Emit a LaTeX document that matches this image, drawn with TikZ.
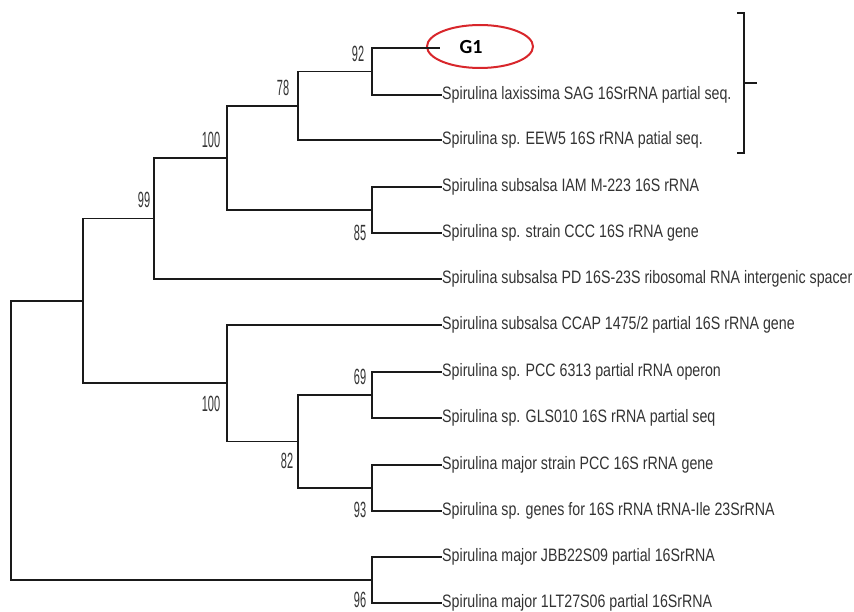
\documentclass[tikz,border=0pt]{standalone}
\usepackage{fontspec}
\setmainfont{Liberation Sans}
\newfontfamily\leaffont[FakeStretch=0.79]{Liberation Sans}
\newfontfamily\bsfont[FakeStretch=0.5]{Liberation Sans}
\newfontfamily\gfont{Carlito}
\usetikzlibrary{shapes.geometric}
\definecolor{txt}{HTML}{333333}
\definecolor{ln}{HTML}{1A1A1A}
\definecolor{ovalred}{HTML}{D8262B}
\tikzset{
  leaf/.style={anchor=west,inner sep=0pt,text=txt,font=\leaffont\fontsize{18}{18}\selectfont},
  bs/.style={inner sep=0pt,text=txt,font=\bsfont\fontsize{22}{22}\selectfont},
  branch/.style={draw=ln,line width=1.8pt},
  brk/.style={draw=ln,line width=2.4pt},
}
\begin{document}
\begin{tikzpicture}[x=1pt,y=-1pt]
\useasboundingbox (0,0) rectangle (854,612);
% leaves
\coordinate (g1end) at (440,48);
\node[ellipse,draw=ovalred,line width=2pt,minimum width=106pt,minimum height=43pt,inner sep=0pt] (g1) at (480,46.5) {};
\node[inner sep=0pt,text=black,font=\gfont\bfseries\fontsize{20}{20}\selectfont] (g1t) at (471,47) {G1};
\node[leaf] (lax) at (442,95) {Spirulina laxissima SAG 16SrRNA partial seq.};
\node[leaf] (eew) at (442,140) {Spirulina sp. EEW5 16S rRNA patial seq.};
\node[leaf] (iam) at (442,187) {Spirulina subsalsa IAM M-223 16S rRNA};
\node[leaf] (ccc) at (442,233) {Spirulina sp. strain CCC 16S rRNA gene};
\node[leaf] (pd) at (442,279) {Spirulina subsalsa PD 16S-23S ribosomal RNA intergenic spacer};
\node[leaf] (ccap) at (442,325) {Spirulina subsalsa CCAP 1475/2 partial 16S rRNA gene};
\node[leaf] (pcc) at (442,372) {Spirulina sp. PCC 6313 partial rRNA operon};
\node[leaf] (gls) at (442,418) {Spirulina sp. GLS010 16S rRNA partial seq};
\node[leaf] (maj) at (442,465) {Spirulina major strain PCC 16S rRNA gene};
\node[leaf] (gen) at (442,511) {Spirulina sp. genes for 16S rRNA tRNA-Ile 23SrRNA};
\node[leaf] (jbb) at (442,557) {Spirulina major JBB22S09 partial 16SrRNA};
\node[leaf] (ilt) at (442,603) {Spirulina major 1LT27S06 partial 16SrRNA};
% internal nodes
\coordinate (root) at (11,440.5);
\coordinate (nA) at (83,301);
\coordinate (n99) at (154,218.5);
\coordinate (n100t) at (227,158);
\coordinate (n78) at (298,106);
\coordinate (n92) at (372,71.5);
\coordinate (n85) at (372,210);
\coordinate (n100b) at (227,383);
\coordinate (n82) at (298,441.5);
\coordinate (n69) at (372,395);
\coordinate (n93) at (372,488);
\coordinate (n96) at (372,580);
% branches
\draw[branch] (root) |- (nA);
\draw[branch] (root) |- (n96);
\draw[branch] (nA) |- (n99);
\draw[branch] (nA) |- (n100b);
\draw[branch] (n99) |- (n100t);
\draw[branch] (n99) |- (pd.west);
\draw[branch] (n100t) |- (n78);
\draw[branch] (n100t) |- (n85);
\draw[branch] (n78) |- (n92);
\draw[branch] (n78) |- (eew.west);
\draw[branch] (n92) |- (g1end);
\draw[branch] (n92) |- (lax.west);
\draw[branch] (n85) |- (iam.west);
\draw[branch] (n85) |- (ccc.west);
\draw[branch] (n100b) |- (ccap.west);
\draw[branch] (n100b) |- (n82);
\draw[branch] (n82) |- (n69);
\draw[branch] (n82) |- (n93);
\draw[branch] (n69) |- (pcc.west);
\draw[branch] (n69) |- (gls.west);
\draw[branch] (n93) |- (maj.west);
\draw[branch] (n93) |- (gen.west);
\draw[branch] (n96) |- (jbb.west);
\draw[branch] (n96) |- (ilt.west);
% bootstrap values
\node[bs] (b92) at (358,54) {92};
\node[bs] (b78) at (283,88) {78};
\node[bs] (b100t) at (211,140) {100};
\node[bs] (b99) at (144,200) {99};
\node[bs] (b85) at (360,233) {85};
\node[bs] (b100b) at (211,404) {100};
\node[bs] (b69) at (360,377) {69};
\node[bs] (b82) at (287,461) {82};
\node[bs] (b93) at (360,510) {93};
\node[bs] (b96) at (360,600) {96};
% bracket
\coordinate (bt) at (737,13);
\coordinate (bb) at (737,153);
\coordinate (bm) at (744,83);
\coordinate (btick) at (757,83);
\draw[brk] (bt) -- (744,13) -- (744,153) -- (bb);
\draw[brk] (bm) -- (btick);
\end{tikzpicture}
\end{document}
